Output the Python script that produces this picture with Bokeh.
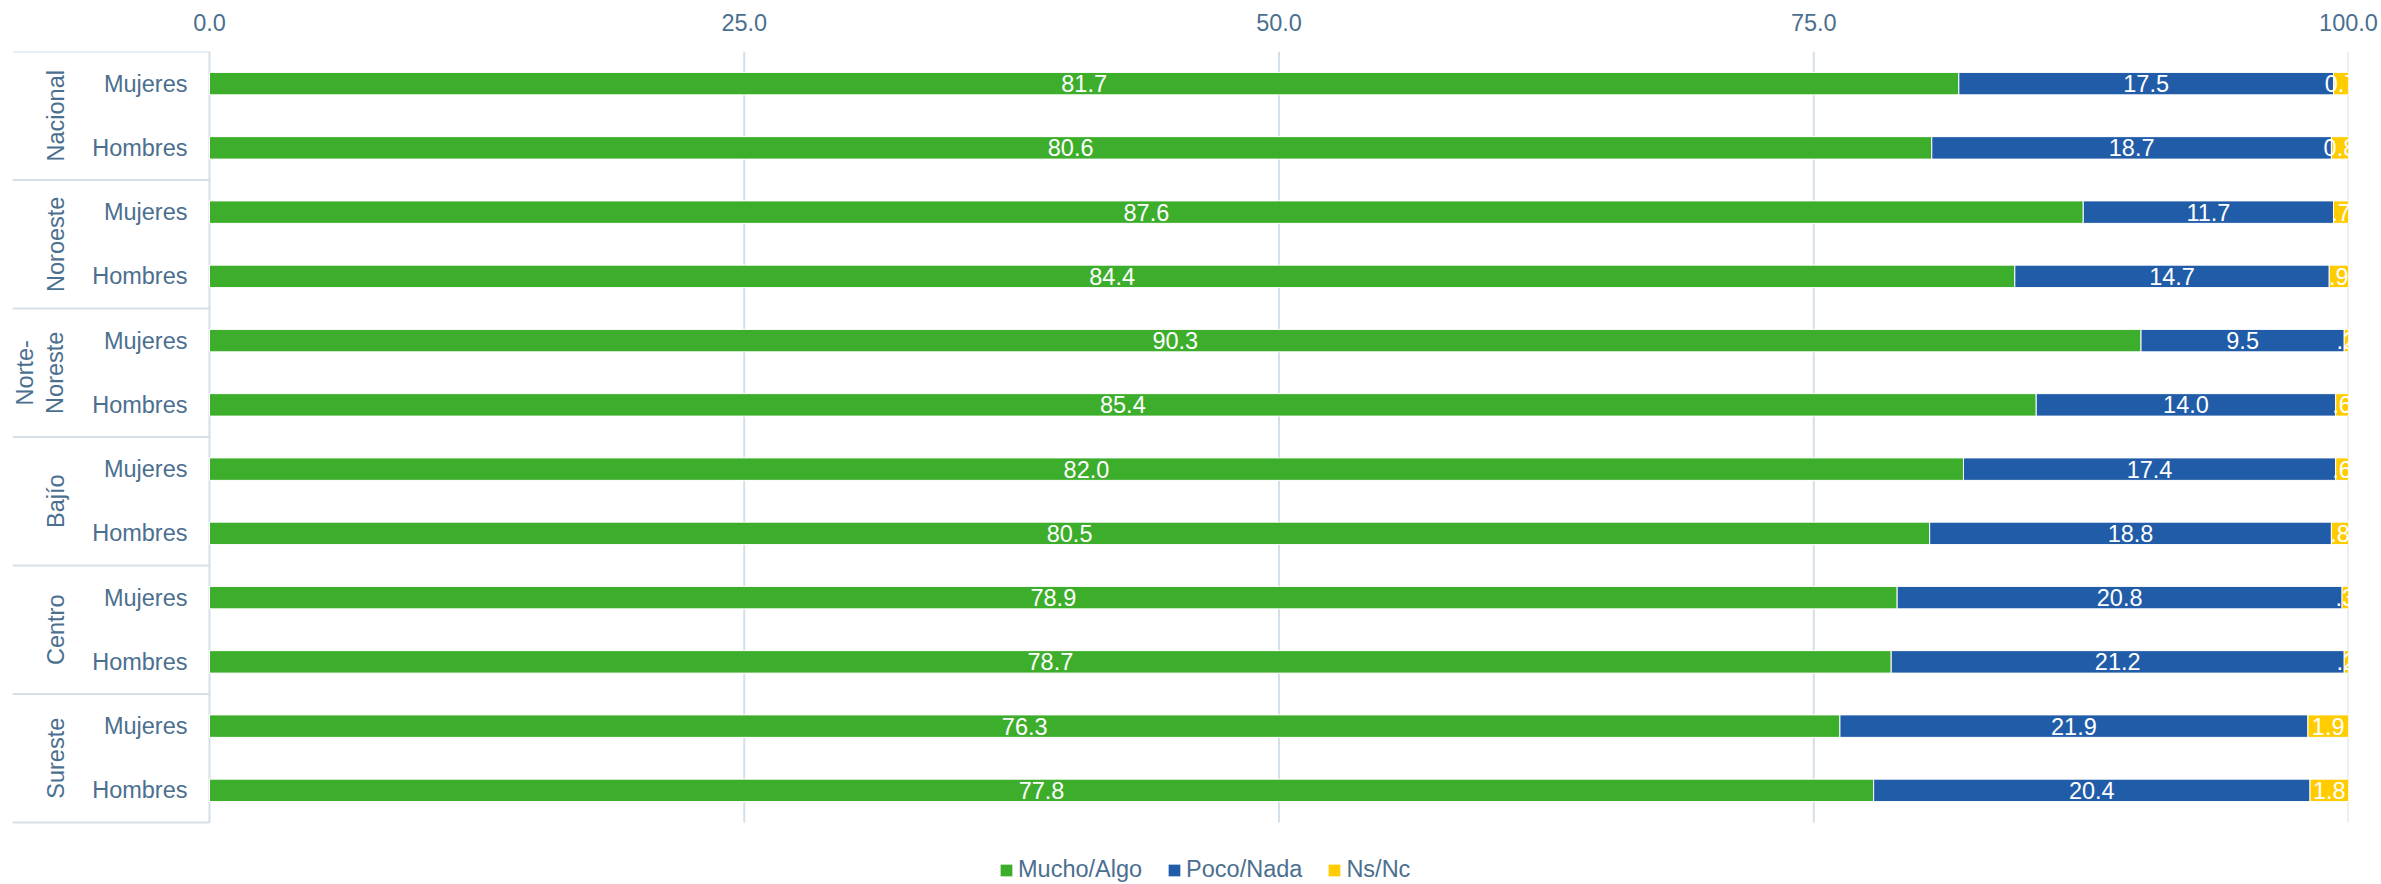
import numpy as np
from bokeh.plotting import figure
from bokeh.models import (ColumnDataSource, Range1d, FixedTicker,
                          PrintfTickFormatter, Legend, LegendItem)
from bokeh.core.properties import value
from bokeh.embed import file_html
from bokeh.resources import INLINE

# ---------------- data ----------------
regions = ["Nacional", "Noroeste", "Norte-Noreste", "Bajío", "Centro", "Sureste"]
region_labels = ["Nacional", "Noroeste", "Norte-\nNoreste", "Bajío", "Centro", "Sureste"]
sexes = ["Mujeres", "Hombres"]
series_names = ["Mucho/Algo", "Poco/Nada", "Ns/Nc"]
mucho = [81.7, 80.6, 87.6, 84.4, 90.3, 85.4, 82.0, 80.5, 78.9, 78.7, 76.3, 77.8]
poco = [17.5, 18.7, 11.7, 14.7, 9.5, 14.0, 17.4, 18.8, 20.8, 21.2, 21.9, 20.4]
nsnc = [0.7, 0.8, 0.7, 0.9, 0.2, 0.6, 0.6, 0.8, 0.3, 0.2, 1.9, 1.8]
nsnc_labels = ["0.7", "0.8", ".7", ".9", ".2", ".6", ".6", ".8", ".3", ".2", "1.9", "1.8"]
x_ticks = [0, 25, 50, 75, 100]

# ---------------- styles / layout ----------------
COLORS = ["#3dae2b", "#215ca8", "#ffcc00"]
TEXT = "#4b6f8f"
GRID = "#d5dfe8"
FONT = "Liberation Sans"
FS = "23.5px"
X_MIN = -9.21        # left edge of the label table area (data units)
LEGEND_ROWS = 0.965  # room under the table for the legend (row units)

rows = [(r, s) for r in regions for s in sexes]
n_rows = len(rows)
row_y = np.array([n_rows - 0.5 - i for i in range(n_rows)])
group_y = np.array([n_rows - len(sexes) * (g + 0.5) for g in range(len(regions))])
bound_y = np.array([n_rows - len(sexes) * g for g in range(len(regions) + 1)])

m = np.array(mucho)
po = np.array(poco)
ns = np.array(nsnc)
tot = m + po + ns
m_s = m / tot * 100
p_s = po / tot * 100
n_s = ns / tot * 100

p = figure(width=2378, height=884,
           x_range=Range1d(X_MIN, 100),
           y_range=Range1d(-LEGEND_ROWS, n_rows),
           x_axis_location="above", y_axis_location=None,
           output_backend="svg", toolbar_location=None,
           min_border_left=12, min_border_right=30, min_border_top=51,
           min_border_bottom=0, outline_line_color=None)

# top axis
ax = p.xaxis[0]
ax.ticker = FixedTicker(ticks=x_ticks)
ax.formatter = PrintfTickFormatter(format="%.1f")
ax.axis_line_color = None
ax.major_tick_line_color = None
ax.minor_tick_line_color = None
ax.major_tick_out = 0
ax.major_label_text_font = FONT
ax.major_label_text_font_size = FS
ax.major_label_text_color = TEXT
ax.major_label_standoff = 21

p.xgrid.grid_line_color = None
p.ygrid.grid_line_color = None

# vertical grid lines (only over the table)
p.segment(x0=x_ticks, x1=x_ticks, y0=0, y1=n_rows, line_color=GRID, line_width=2)

# table lines in label area
p.segment(x0=X_MIN, x1=0, y0=bound_y, y1=bound_y, line_color=GRID, line_width=2)

# stacked bars
src = ColumnDataSource(dict(y=row_y, m=m_s, p=p_s, n=n_s))
rends = p.hbar_stack(["m", "p", "n"], y="y", height=0.35, color=COLORS,
                     line_color="white", line_width=1, source=src)

# bar labels
lab_src = ColumnDataSource(dict(
    x=np.concatenate([m_s / 2, m_s + p_s / 2, m_s + p_s + n_s / 2]),
    y=np.concatenate([row_y, row_y, row_y]),
    t=[f"{v:.1f}" for v in mucho] + [f"{v:.1f}" for v in poco] + nsnc_labels,
))
p.text(x="x", y="y", text="t", source=lab_src, text_color="white",
       text_font=value(FONT), text_font_size=FS, text_align="center",
       text_baseline="middle")

# sub labels
sub_src = ColumnDataSource(dict(y=row_y, t=[s for _, s in rows]))
p.text(x=0, y="y", text="t", source=sub_src, x_offset=-22,
       text_color=TEXT, text_font=value(FONT), text_font_size=FS,
       text_align="right", text_baseline="middle")

# group labels
grp_src = ColumnDataSource(dict(y=group_y, t=region_labels))
p.text(x=0, y="y", text="t", source=grp_src, x_offset=-141, angle=np.pi / 2,
       text_color=TEXT, text_font=value(FONT), text_font_size=FS,
       text_align="center", text_baseline="bottom", text_line_height=1.17)

# legend (inside the frame, under the table)
legend = Legend(items=[LegendItem(label=n, renderers=[r]) for n, r in zip(series_names, rends)],
                orientation="horizontal", location=(986, 1),
                glyph_width=16, glyph_height=16, label_standoff=4, spacing=24,
                padding=0, margin=0, border_line_color=None,
                background_fill_alpha=0,
                label_text_font=FONT, label_text_font_size=FS,
                label_text_color=TEXT)
p.add_layout(legend, "center")

open("out.html", "w").write(file_html(p, INLINE))
